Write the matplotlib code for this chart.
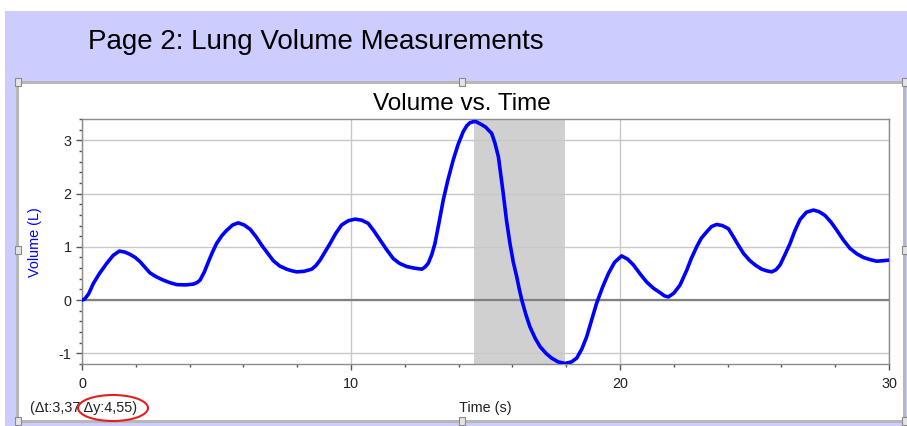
import matplotlib
matplotlib.use("Agg")
import matplotlib.pyplot as plt
from matplotlib.patches import Rectangle, Ellipse
from matplotlib.ticker import MultipleLocator

# data
time_s = [0.0, 0.1, 0.25, 0.42, 0.65, 0.92, 1.16, 1.39, 1.6, 1.78, 1.98, 2.16,
          2.35, 2.53, 2.75, 3.02, 3.25, 3.52, 3.85, 4.14, 4.28, 4.39, 4.55,
          4.70, 4.85, 5.00, 5.2, 5.38, 5.6, 5.81, 6.03, 6.25, 6.47, 6.68, 6.9,
          7.11, 7.35, 7.61, 7.8, 7.98, 8.25, 8.54, 8.7, 8.85, 9.03, 9.22, 9.43,
          9.65, 9.9, 10.15, 10.4, 10.64, 10.85, 11.08, 11.32, 11.57, 11.8,
          12.07, 12.35, 12.63, 12.75, 12.87, 13.0, 13.12, 13.27, 13.43, 13.6,
          13.80, 13.98, 14.17, 14.3, 14.42, 14.55, 14.65, 14.8, 15.0, 15.23,
          15.35, 15.48, 15.57, 15.66, 15.78, 15.91, 16.03, 16.16, 16.25, 16.35,
          16.5, 16.65, 16.85, 17.03, 17.25, 17.46, 17.7, 17.96, 18.2, 18.39,
          18.58, 18.76, 18.95, 19.13, 19.35, 19.57, 19.8, 20.06, 20.28, 20.5,
          20.75, 20.99, 21.25, 21.49, 21.65, 21.80, 22.0, 22.23, 22.48, 22.65,
          22.85, 23.02, 23.22, 23.4, 23.59, 23.8, 24.03, 24.2, 24.40, 24.6,
          24.83, 25.05, 25.27, 25.45, 25.64, 25.8, 25.95, 26.13, 26.32, 26.5,
          26.69, 26.93, 27.19, 27.4, 27.62, 27.85, 28.06, 28.3, 28.55, 28.8,
          29.05, 29.3, 29.54, 29.8, 30.0]
volume_l = [0.0, 0.02, 0.12, 0.31, 0.5, 0.69, 0.84, 0.92, 0.90, 0.86, 0.80, 0.72,
            0.61, 0.51, 0.44, 0.375, 0.33, 0.29, 0.285, 0.30, 0.33, 0.375, 0.53,
            0.72, 0.9, 1.06, 1.21, 1.31, 1.41, 1.45, 1.41, 1.33, 1.19, 1.03, 0.88,
            0.74, 0.64, 0.58, 0.55, 0.53, 0.54, 0.58, 0.65, 0.75, 0.9, 1.06, 1.25,
            1.41, 1.49, 1.52, 1.50, 1.44, 1.30, 1.13, 0.95, 0.78, 0.69,
            0.63, 0.60, 0.58, 0.62, 0.69, 0.85, 1.06, 1.45, 1.88, 2.25,
            2.63, 2.92, 3.16, 3.27, 3.33, 3.35, 3.35, 3.31, 3.25, 3.13,
            2.95, 2.69, 2.35, 2.0, 1.5, 1.06, 0.72, 0.44, 0.22, 0.0,
            -0.27, -0.5, -0.72, -0.875, -1.0, -1.09, -1.16, -1.19, -1.16, -1.09,
            -0.92, -0.69, -0.37, -0.06, 0.24, 0.5, 0.71, 0.83, 0.77, 0.66,
            0.49, 0.34, 0.22, 0.14, 0.08, 0.06, 0.13, 0.28, 0.56, 0.78,
            1.0, 1.16, 1.28, 1.38, 1.42, 1.40, 1.34, 1.20, 1.03, 0.87,
            0.74, 0.65, 0.58, 0.55, 0.53, 0.57, 0.66, 0.85, 1.06, 1.30,
            1.51, 1.65, 1.69, 1.66, 1.59, 1.46, 1.31, 1.13, 0.97, 0.87,
            0.80, 0.76, 0.73, 0.74, 0.75]
sel_start = 14.57
sel_end = 17.94
page_title = "Page 2: Lung Volume Measurements"
chart_title = "Volume vs. Time"
delta_text = "(\u0394t:3,37 \u0394y:4,55)"

W, H = 907, 426
plt.rcParams['font.family'] = ['Liberation Sans', 'DejaVu Sans']
plt.rcParams['axes.unicode_minus'] = False

def fx(x):
    return x / W

def fy(y):
    return 1 - y / H

fig = plt.figure(figsize=(W / 100, H / 100), dpi=100)
fig.patch.set_facecolor("white")

# page banner and panel frame (behind the axes)
fig.add_artist(Rectangle((fx(5), 0), 1 - fx(5), fy(11), transform=fig.transFigure,
                         facecolor="#CCCCFF", edgecolor="none", zorder=-3))
fig.add_artist(Rectangle((fx(17), fy(421)), fx(904) - fx(17), fy(82) - fy(421),
                         transform=fig.transFigure, facecolor="white",
                         edgecolor="#B8B8B8", lw=2.2, zorder=-2))
for hx, hy in [(18, 82), (462, 82), (905, 82), (18, 250), (905, 250),
               (18, 421), (462, 421), (905, 421)]:
    fig.add_artist(Rectangle((fx(hx - 3), fy(hy + 4)), 6 / W, 8 / H,
                             transform=fig.transFigure, facecolor="#E4E4E4",
                             edgecolor="#8A8A8A", lw=0.8, zorder=-1))

fig.text(fx(88), fy(42), page_title, fontsize=20, va="center", ha="left")

ax = fig.add_axes([fx(82), fy(364), fx(889) - fx(82), fy(119) - fy(364)])
ax.set_zorder(1)
ax.patch.set_alpha(0)
ax.set_xlim(0, 30)
ax.set_ylim(-1.2, 3.4)
ax.set_axisbelow(True)
ax.axvspan(sel_start, sel_end, color="#D0D0D0", zorder=0.3, lw=0)
ax.grid(True, which="major", color="#C8C8C8", lw=1)
ax.axhline(0, color="#808080", lw=1.6, zorder=0.6)
ax.plot(time_s, volume_l, color="#0000FF", lw=2.6, solid_capstyle="round",
        solid_joinstyle="round", zorder=3)

ax.xaxis.set_major_locator(MultipleLocator(10))
ax.xaxis.set_minor_locator(MultipleLocator(2))
ax.yaxis.set_major_locator(MultipleLocator(1))
ax.yaxis.set_minor_locator(MultipleLocator(0.2))
ax.tick_params(which="major", direction="out", length=4.5, width=1, color="#555555",
               labelsize=10.4, labelcolor="#222222")
ax.tick_params(which="minor", direction="out", length=2.5, width=1, color="#555555")
ax.tick_params(axis="x", pad=5)
ax.tick_params(axis="y", pad=3)
for sp in ax.spines.values():
    sp.set_color("#8C8C8C")
    sp.set_linewidth(1)

fig.text(fx(462), fy(104), chart_title, fontsize=17.5, ha="center", va="center")
fig.text(fx(35), fy(242), "Volume (L)", fontsize=10.4, color="#0000FF",
         rotation=90, ha="center", va="center")
fig.text(fx(485), fy(408), "Time (s)", fontsize=10.4, ha="center", va="center",
         color="#222222")
fig.text(fx(30), fy(408), delta_text, fontsize=10.4, ha="left", va="center",
         color="#222222")
fig.add_artist(Ellipse((fx(113), fy(408)), 70 / W, 26 / H, transform=fig.transFigure,
                       fill=False, edgecolor="#E02020", lw=1.5, zorder=5))

fig.savefig("out.png", dpi=100)
